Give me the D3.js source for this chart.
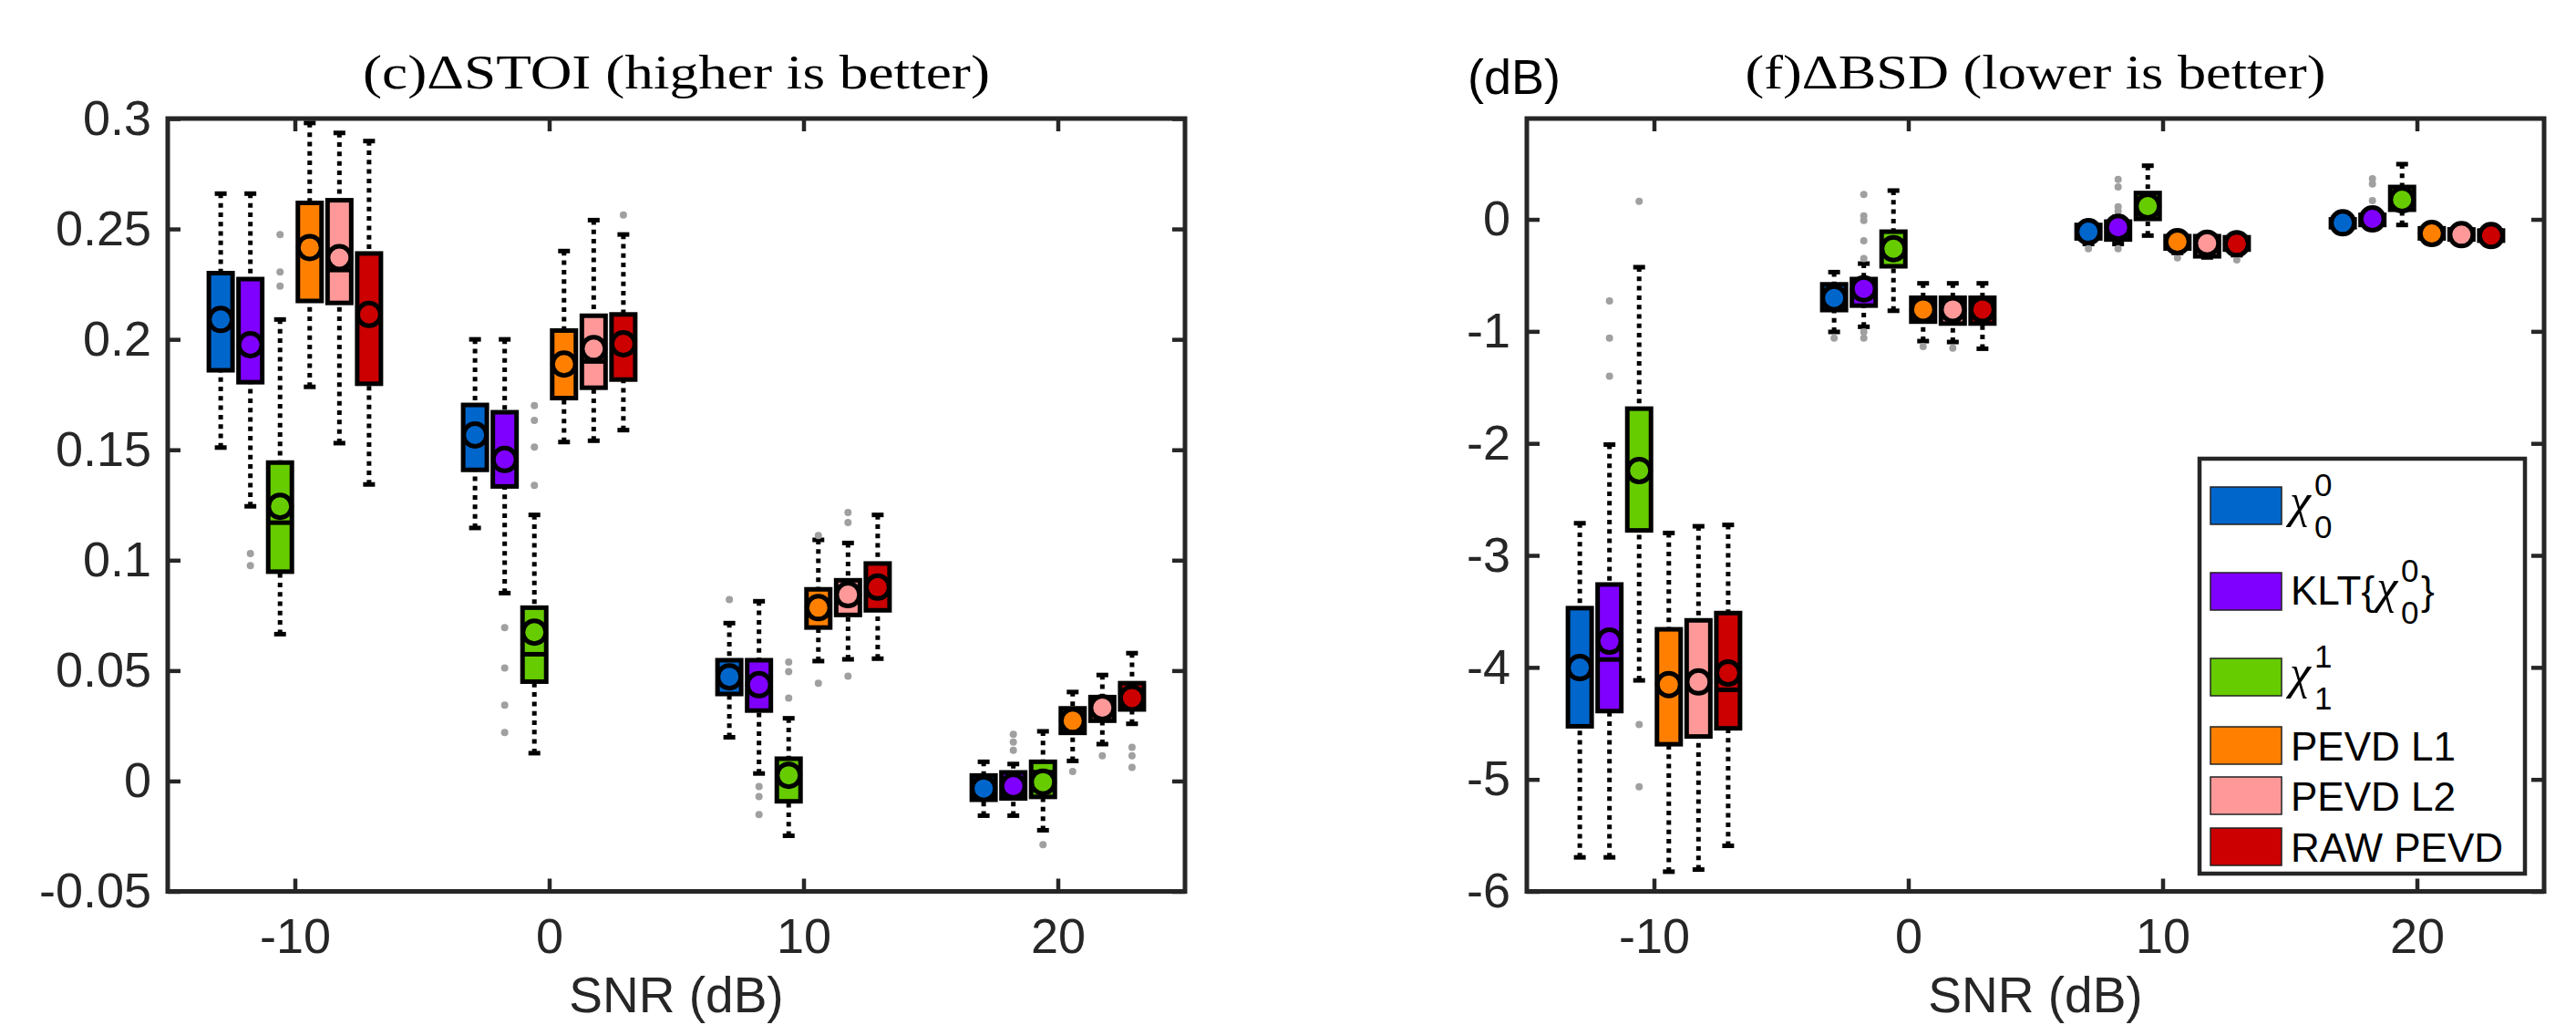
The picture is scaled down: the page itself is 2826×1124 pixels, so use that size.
<!DOCTYPE html>
<meta charset="utf-8">
<body style="margin:0;background:#fff">
<svg width="2826" height="1124"></svg>
<script src="https://cdn.jsdelivr.net/npm/d3@7"></script>
<script>
  // categories
  var snrLevels = [-10, 0, 10, 20];
  var snrLabels = ['-10', '0', '10', '20'];
  var methodColors = ['#0066cc', '#8000ff', '#66cc00', '#ff8000', '#ff9999', '#cc0000'];

  // (c) delta STOI, rows = methods, cols = SNR
  var stoiHi = [
    [0.266, 0.200, 0.0715, 0.0087],
    [0.266, 0.200, 0.0814, 0.0077],
    [0.209, 0.1205, 0.0284, 0.0225],
    [0.298, 0.240, 0.1092, 0.0403],
    [0.2935, 0.254, 0.1078, 0.048],
    [0.2898, 0.2475, 0.1205, 0.0579]
  ];
  var stoiQ3 = [
    [0.230, 0.1703, 0.0547, 0.0025],
    [0.2273, 0.167, 0.0547, 0.0039],
    [0.1442, 0.0785, 0.0101, 0.0087],
    [0.2618, 0.204, 0.0868, 0.0329],
    [0.263, 0.2107, 0.0909, 0.038],
    [0.2389, 0.2113, 0.0985, 0.0443]
  ];
  var stoiMed = [
    [0.209, 0.157, 0.047, -0.003],
    [0.197, 0.146, 0.044, -0.002],
    [0.117, 0.0574, 0.002, 0.004],
    [0.241, 0.189, 0.079, 0.027],
    [0.2314, 0.19, 0.084, 0.033],
    [0.211, 0.198, 0.088, 0.038]
  ];
  var stoiQ1 = [
    [0.186, 0.1409, 0.0394, -0.0085],
    [0.1806, 0.1334, 0.0319, -0.0079],
    [0.0948, 0.045, -0.0092, -0.0072],
    [0.2174, 0.1734, 0.0695, 0.0218],
    [0.2165, 0.1781, 0.0752, 0.0273],
    [0.1799, 0.1818, 0.0773, 0.0324]
  ];
  var stoiLo = [
    [0.151, 0.1146, 0.0198, -0.0157],
    [0.1244, 0.0851, 0.0034, -0.0157],
    [0.0665, 0.0126, -0.0248, -0.0223],
    [0.1785, 0.1535, 0.0543, 0.0091],
    [0.153, 0.1541, 0.0551, 0.0167],
    [0.1343, 0.1589, 0.0554, 0.0259]
  ];
  var stoiMean = [
    [0.209, 0.1567, 0.0472, -0.0034],
    [0.1976, 0.1456, 0.0436, -0.0023],
    [0.1244, 0.0674, 0.0026, -0.0005],
    [0.2416, 0.1888, 0.0785, 0.0273],
    [0.237, 0.1958, 0.0844, 0.0332],
    [0.2113, 0.198, 0.0878, 0.0376]
  ];
  // [method, snr index, value]
  var stoiOutliers = [
    [2, 0, 0.2475], [2, 0, 0.2305], [2, 0, 0.2241],
    [1, 0, 0.103], [1, 0, 0.0975],
    [2, 1, 0.170], [2, 1, 0.1633], [2, 1, 0.1512], [2, 1, 0.1339],
    [1, 1, 0.0695], [1, 1, 0.0512], [1, 1, 0.0343], [1, 1, 0.022],
    [5, 1, 0.2563],
    [0, 2, 0.0822],
    [1, 2, -0.0025], [1, 2, -0.007], [1, 2, -0.0152],
    [2, 2, 0.0539], [2, 2, 0.0495], [2, 2, 0.0376],
    [3, 2, 0.1112], [3, 2, 0.0443],
    [4, 2, 0.1216], [4, 2, 0.1171], [4, 2, 0.0475],
    [1, 3, 0.0211], [1, 3, 0.0176], [1, 3, 0.0139],
    [2, 3, -0.0288],
    [3, 3, 0.0043],
    [4, 3, 0.0114],
    [5, 3, 0.0152], [5, 3, 0.0114], [5, 3, 0.0062]
  ];
  var stoiTicks = [-0.05, 0, 0.05, 0.1, 0.15, 0.2, 0.25, 0.3];
  var stoiTickLabels = ['-0.05', '0', '0.05', '0.1', '0.15', '0.2', '0.25', '0.3'];

  // (f) delta BSD
  var bsdHi = [
    [-2.713, -0.471, -0.02, 0.04],
    [-2.011, -0.395, 0.02, 0.06],
    [-0.427, 0.257, 0.479, 0.493],
    [-2.80, -0.571, -0.13, -0.06],
    [-2.74, -0.571, -0.14, -0.07],
    [-2.728, -0.571, -0.15, -0.08]
  ];
  var bsdQ3 = [
    [-3.471, -0.58, -0.05, 0.0],
    [-3.26, -0.533, -0.02, 0.04],
    [-1.69, -0.11, 0.235, 0.289],
    [-3.66, -0.70, -0.15, -0.08],
    [-3.58, -0.70, -0.15, -0.09],
    [-3.515, -0.70, -0.16, -0.10]
  ];
  var bsdMed = [
    [-4.0, -0.70, -0.11, -0.03],
    [-3.93, -0.62, -0.07, 0.0],
    [-2.24, -0.26, 0.12, 0.18],
    [-4.15, -0.80, -0.20, -0.126],
    [-4.13, -0.80, -0.21, -0.137],
    [-4.20, -0.80, -0.22, -0.145]
  ];
  var bsdQ1 = [
    [-4.526, -0.81, -0.17, -0.07],
    [-4.39, -0.77, -0.18, -0.05],
    [-2.777, -0.419, 0.004, 0.086],
    [-4.686, -0.913, -0.26, -0.17],
    [-4.617, -0.93, -0.33, -0.18],
    [-4.544, -0.93, -0.27, -0.19]
  ];
  var bsdLo = [
    [-5.696, -1.005, -0.22, -0.09],
    [-5.696, -0.959, -0.22, -0.08],
    [-4.116, -0.816, -0.145, -0.05],
    [-5.824, -1.087, -0.30, -0.19],
    [-5.805, -1.095, -0.34, -0.20],
    [-5.593, -1.155, -0.32, -0.20]
  ];
  var bsdMean = [
    [-4.002, -0.702, -0.11, -0.031],
    [-3.766, -0.62, -0.071, 0.004],
    [-2.243, -0.262, 0.118, 0.175],
    [-4.153, -0.805, -0.199, -0.126],
    [-4.13, -0.805, -0.213, -0.137],
    [-4.051, -0.805, -0.218, -0.145]
  ];
  var bsdOutliers = [
    [1, 0, -0.729], [1, 0, -1.06], [1, 0, -1.40],
    [2, 0, 0.161], [2, 0, -4.511], [2, 0, -5.066],
    [0, 1, -1.06],
    [1, 1, 0.222], [1, 1, 0.031], [1, 1, -0.01], [1, 1, -0.191], [1, 1, -0.349], [1, 1, -1.005], [1, 1, -1.06],
    [3, 1, -1.136], [4, 1, -1.15],
    [0, 2, -0.262],
    [1, 2, 0.357], [1, 2, 0.289], [1, 2, 0.113], [1, 2, 0.072], [1, 2, -0.262],
    [3, 2, -0.343], [5, 2, -0.362],
    [1, 3, 0.363], [1, 3, 0.316], [1, 3, 0.167]
  ];
  var bsdTicks = [-6, -5, -4, -3, -2, -1, 0];
  var bsdTickLabels = ['-6', '-5', '-4', '-3', '-2', '-1', '0'];

  var svg = d3.select('svg');
  svg.append('rect').attr('width', 2826).attr('height', 1124).attr('fill', '#fff');

  var axisColor = '#262626';
  var sans = '"Liberation Sans", Arial, Helvetica, sans-serif';
  var serif = '"Liberation Serif", "Times New Roman", serif';
  var plotW = 1116, plotTop = 130, plotBottom = 977.5;
  var boxW = 26;

  function drawPanel(cfg) {
    var g = svg.append('g');
    var x = d3.scaleLinear().domain([-15, 25]).range([cfg.left, cfg.left + plotW]);
    var y = d3.scaleLinear().domain(cfg.yDomain).range([plotBottom, plotTop]);
    var slot = d3.scaleBand().domain(d3.range(methodColors.length)).range([-3.5, 3.5]);

    function styleAxis(sel) {
      sel.select('.domain').remove();
      sel.selectAll('.tick line').attr('stroke', axisColor).attr('stroke-width', 4.5);
      sel.selectAll('.tick text').attr('fill', axisColor)
        .style('font-family', sans).style('font-size', '54px');
    }

    g.append('g').attr('transform', 'translate(0,' + plotBottom + ')')
      .call(d3.axisBottom(x).tickValues(snrLevels)
        .tickFormat(function (d, i) { return snrLabels[i]; })
        .tickSize(-14).tickPadding(29))
      .call(styleAxis);
    g.append('g').attr('transform', 'translate(0,' + plotTop + ')')
      .call(d3.axisTop(x).tickValues(snrLevels).tickFormat('').tickSize(-14))
      .call(styleAxis);
    g.append('g').attr('transform', 'translate(' + cfg.left + ',0)')
      .call(d3.axisLeft(y).tickValues(cfg.ticks)
        .tickFormat(function (d, i) { return cfg.tickLabels[i]; })
        .tickSize(-14).tickPadding(18))
      .call(styleAxis);
    g.append('g').attr('transform', 'translate(' + (cfg.left + plotW) + ',0)')
      .call(d3.axisRight(y).tickValues(cfg.ticks).tickFormat('').tickSize(-14))
      .call(styleAxis);

    // boxes
    methodColors.forEach(function (color, m) {
      snrLevels.forEach(function (snr, j) {
        var cx = x(snr + slot(m) + slot.bandwidth() / 2);
        var bg = g.append('g');
        // whiskers
        [[cfg.hi[m][j], cfg.q3[m][j]], [cfg.lo[m][j], cfg.q1[m][j]]].forEach(function (w) {
          bg.append('line')
            .attr('x1', cx).attr('x2', cx)
            .attr('y1', y(w[0])).attr('y2', y(w[1]))
            .attr('stroke', '#000').attr('stroke-width', 5)
            .attr('stroke-dasharray', '5 5.3');
          bg.append('line')
            .attr('x1', cx - 6.5).attr('x2', cx + 6.5)
            .attr('y1', y(w[0])).attr('y2', y(w[0]))
            .attr('stroke', '#000').attr('stroke-width', 5);
        });
        bg.append('rect')
          .attr('x', cx - boxW / 2).attr('width', boxW)
          .attr('y', y(cfg.q3[m][j]))
          .attr('height', y(cfg.q1[m][j]) - y(cfg.q3[m][j]))
          .attr('fill', color).attr('stroke', '#000').attr('stroke-width', 5);
        bg.append('line')
          .attr('x1', cx - boxW / 2).attr('x2', cx + boxW / 2)
          .attr('y1', y(cfg.med[m][j])).attr('y2', y(cfg.med[m][j]))
          .attr('stroke', '#000').attr('stroke-width', 5);
      });
    });

    // outliers
    g.selectAll('.outlier').data(cfg.outliers).enter().append('circle')
      .attr('cx', function (d) { return x(snrLevels[d[1]] + slot(d[0]) + slot.bandwidth() / 2); })
      .attr('cy', function (d) { return y(d[2]); })
      .attr('r', 4).attr('fill', '#a0a0a0');

    // means
    methodColors.forEach(function (color, m) {
      snrLevels.forEach(function (snr, j) {
        g.append('circle')
          .attr('cx', x(snr + slot(m) + slot.bandwidth() / 2))
          .attr('cy', y(cfg.mean[m][j]))
          .attr('r', 12.5)
          .attr('fill', color).attr('stroke', '#000').attr('stroke-width', 5);
      });
    });

    // frame
    g.append('rect')
      .attr('x', cfg.left).attr('y', plotTop)
      .attr('width', plotW).attr('height', plotBottom - plotTop)
      .attr('fill', 'none').attr('stroke', axisColor).attr('stroke-width', 5);

    g.append('text')
      .attr('x', cfg.left + plotW / 2).attr('y', 97)
      .attr('text-anchor', 'middle')
      .attr('textLength', cfg.titleWidth).attr('lengthAdjust', 'spacingAndGlyphs')
      .style('font-family', serif).style('font-size', '52px')
      .text(cfg.title);

    g.append('text')
      .attr('x', cfg.left + plotW / 2).attr('y', 1110)
      .attr('text-anchor', 'middle').attr('fill', axisColor)
      .style('font-family', sans).style('font-size', '55px')
      .text('SNR (dB)');

    return g;
  }

  drawPanel({
    left: 184, yDomain: [-0.05, 0.3],
    ticks: stoiTicks, tickLabels: stoiTickLabels,
    hi: stoiHi, q3: stoiQ3, med: stoiMed, q1: stoiQ1, lo: stoiLo, mean: stoiMean,
    outliers: stoiOutliers,
    title: '(c)\u0394STOI (higher is better)', titleWidth: 688
  });

  var right = drawPanel({
    left: 1675, yDomain: [-6, 0.9],
    ticks: bsdTicks, tickLabels: bsdTickLabels,
    hi: bsdHi, q3: bsdQ3, med: bsdMed, q1: bsdQ1, lo: bsdLo, mean: bsdMean,
    outliers: bsdOutliers,
    title: '(f)\u0394BSD (lower is better)', titleWidth: 637
  });

  right.append('text')
    .attr('x', 1610).attr('y', 103).attr('fill', '#000')
    .style('font-family', sans).style('font-size', '54px')
    .text('(dB)');

  // legend
  var legend = svg.append('g');
  legend.append('rect')
    .attr('x', 2413).attr('y', 503).attr('width', 357).attr('height', 455)
    .attr('fill', '#fff').attr('stroke', axisColor).attr('stroke-width', 4.5);

  var rowTops = [534, 628, 722, 797, 852, 908];
  var patchH = 41;

  function chi(gr, x0, cy, sup, sub) {
    var c = gr.append('text').attr('x', x0).attr('y', cy + 12)
      .style('font-family', serif).style('font-style', 'italic').style('font-size', '52px')
      .text('\u03c7');
    var x1 = x0 + c.node().getComputedTextLength() + 4;
    gr.append('text').attr('x', x1).attr('y', cy - 11)
      .style('font-family', sans).style('font-size', '35px').text(sup);
    gr.append('text').attr('x', x1).attr('y', cy + 35)
      .style('font-family', sans).style('font-size', '35px').text(sub);
    return x1 + 20;
  }

  methodColors.forEach(function (color, i) {
    var row = legend.append('g');
    var cy = rowTops[i] + patchH / 2;
    row.append('rect')
      .attr('x', 2425).attr('y', rowTops[i]).attr('width', 78).attr('height', patchH)
      .attr('fill', color).attr('stroke', '#222').attr('stroke-width', 1.5);
    if (i === 0) {
      chi(row, 2512, cy, '0', '0');
    } else if (i === 1) {
      var t = row.append('text').attr('x', 2513).attr('y', cy + 14)
        .style('font-family', sans).style('font-size', '44px').text('KLT{');
      var xe = chi(row, 2513 + t.node().getComputedTextLength() + 2, cy, '0', '0');
      row.append('text').attr('x', xe + 2).attr('y', cy + 14)
        .style('font-family', sans).style('font-size', '44px').text('}');
    } else if (i === 2) {
      chi(row, 2512, cy, '1', '1');
    } else {
      row.append('text').attr('x', 2513).attr('y', cy + 16.5)
        .style('font-family', sans).style('font-size', '44px')
        .text(['', '', '', 'PEVD L1', 'PEVD L2', 'RAW PEVD'][i]);
    }
  });
</script>
</body>
